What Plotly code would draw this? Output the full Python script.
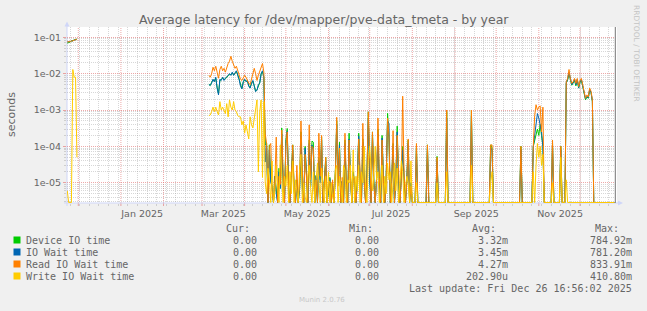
import pandas as pd
import plotly.graph_objects as go

# ---------------- data (seconds, daily averages) ----------------
series_names = ["Device IO time", "IO Wait time", "Read IO Wait time", "Write IO Wait time"]
series_colors = ["#00CC00", "#0066B3", "#FF8000", "#FFCC00"]

# late Nov 2024
seg1_start = "2024-11-23"
seg1_device = [0.069, 0.071, 0.074, 0.079, 0.081, 0.084, 0.089, 0.090]
seg1_iowait = [0.075, 0.074, 0.076, 0.080, 0.079, 0.084, 0.086, 0.087]
seg1_read = [0.075, 0.074, 0.076, 0.080, 0.079, 0.084, 0.086, 0.087]
seg1_write = [6e-6, 0, 0, 0, 1.3e-2, 8e-3, 8e-3, 5e-5]

# Mar 6 - Apr 15 2025
seg2_start = "2025-03-06"
seg2_device = [5.1e-3, 4.7e-3, 5.8e-3, 6.8e-3, 6.2e-3, 7.6e-3, 4.2e-3, 2.8e-3, 6.6e-3, 6.8e-3,
               7.7e-3, 6.8e-3, 7.2e-3, 8.2e-3, 8.7e-3, 9.6e-3, 9.3e-3, 1.05e-2, 9.2e-3, 1.0e-2,
               1.15e-2, 9.3e-3, 6.7e-3, 4.7e-3, 3.9e-3, 5.8e-3, 6.8e-3, 6.2e-3, 6.3e-3, 4.7e-3,
               4.1e-3, 5.3e-3, 6.3e-3, 4.7e-3, 3.3e-3, 3.6e-3, 4.8e-3, 5.7e-3, 9.7e-3, 1.17e-2, 7.7e-3]
seg2_iowait = [5e-3, 4.8e-3, 5.5e-3, 7e-3, 6e-3, 8e-3, 4e-3, 2.6e-3, 7e-3, 6.5e-3,
               8e-3, 6.5e-3, 7.5e-3, 8e-3, 9e-3, 1.0e-2, 9e-3, 1.1e-2, 9e-3, 1.05e-2,
               1.2e-2, 9e-3, 7e-3, 4.5e-3, 3.8e-3, 6e-3, 7e-3, 6e-3, 6.5e-3, 4.5e-3,
               4e-3, 5.5e-3, 6.5e-3, 4.5e-3, 3.2e-3, 3.5e-3, 5e-3, 5.5e-3, 1.0e-2, 1.2e-2, 8e-3]
seg2_read = [9e-3, 8e-3, 1.0e-2, 1.5e-2, 1.2e-2, 1.6e-2, 1.1e-2, 7.5e-3, 1.3e-2, 1.6e-2,
             1.2e-2, 1.4e-2, 1.1e-2, 1.5e-2, 1.9e-2, 2.2e-2, 3.0e-2, 2.2e-2, 1.7e-2, 1.4e-2,
             1.6e-2, 1.2e-2, 9e-3, 7e-3, 6.5e-3, 7.5e-3, 9e-3, 8e-3, 6.5e-3, 5.5e-3,
             5e-3, 7.5e-3, 1.1e-2, 1.4e-2, 1.0e-2, 6.5e-3, 9e-3, 1.2e-2, 1.6e-2, 1.9e-2, 1.1e-2]
seg2_write = [7e-4, 7.3e-4, 9e-4, 1.2e-3, 9e-4, 1.2e-3, 9e-4, 7.3e-4, 1.7e-3, 1.0e-3,
              1.2e-3, 1.0e-3, 8e-4, 1.5e-3, 6.5e-4, 1.9e-3, 1.2e-3, 1.0e-3, 1.7e-3, 1.0e-3,
              9e-4, 7e-4, 6.5e-4, 6.5e-4, 3.9e-4, 5e-4, 2.3e-4, 3.9e-4, 2.5e-4, 1.6e-4,
              6.5e-4, 3.9e-4, 3.2e-4, 6e-4, 1.2e-3, 1.9e-3, 2e-5, 9e-4, 1.9e-3, 1.4e-5, 1.7e-3]

# Apr 16 - Aug 1 2025
seg3_start = "2025-04-16"
seg3_device = [1.1e-4, 1.2e-4, 0, 1.1e-4, 1.2e-5, 8e-6, 0, 1.5e-5, 6e-6, 0,
               2.5e-5, 7e-6, 3.2e-4, 1.0e-5, 0, 1.5e-4, 3.1e-4, 8e-6, 0, 2e-5,
               1.1e-4, 6e-6, 0, 1.2e-5, 0, 7e-6, 2.5e-4, 1e-5, 0, 1e-4,
               1.2e-5, 0, 1.5e-4, 8e-6, 1.4e-4, 1.3e-4, 0, 1.6e-5, 0, 5e-5,
               1.2e-5, 1.8e-4, 0, 1.1e-5, 5e-5, 0, 6e-6, 1.4e-5, 0, 9e-6,
               0, 2e-5, 5e-4, 1e-5, 1.3e-4, 0, 1.1e-5, 0, 1.5e-4, 8e-6,
               0, 2.3e-4, 1.5e-5, 0, 2e-5, 1e-5, 0, 1.3e-5, 2.3e-4, 9e-6,
               0, 1.6e-4, 1.2e-5, 0, 2e-5, 8.9e-4, 1.5e-5, 0, 2.5e-4, 1.1e-5,
               0, 1.4e-5, 3e-4, 1e-5, 0, 2e-4, 1.2e-5, 0, 1.6e-5, 8.1e-4,
               1.5e-4, 0, 1.3e-5, 1.2e-4, 0, 1.1e-5, 3.6e-4, 9e-6, 0, 1.5e-5,
               1e-4, 1.3e-5, 0, 1.2e-5, 1.5e-4, 0, 1e-5, 0]
seg3_iowait = [3.7e-5, 1.0e-4, 0, 8e-5, 1e-5, 8e-6, 0, 1.5e-5, 5e-6, 0,
               2e-5, 7e-6, 2.2e-4, 9e-6, 0, 1.2e-4, 2.6e-4, 8e-6, 0, 2e-5,
               8e-5, 6e-6, 0, 1e-5, 0, 7e-6, 2e-4, 8e-6, 0, 9e-5,
               1.2e-5, 0, 1.2e-4, 8e-6, 1.1e-4, 8e-5, 0, 1.5e-5, 0, 4e-5,
               1e-5, 1.5e-4, 0, 1.1e-5, 4e-5, 0, 6e-6, 1.3e-5, 0, 9e-6,
               0, 1.8e-5, 4e-4, 1e-5, 1.1e-4, 0, 1.1e-5, 0, 1.2e-4, 7e-6,
               0, 1.6e-4, 1.4e-5, 0, 1.8e-5, 1e-5, 0, 1.2e-5, 1.9e-4, 8e-6,
               0, 1.3e-4, 1.1e-5, 0, 1.8e-5, 6e-4, 1.2e-5, 0, 2e-4, 1e-5,
               0, 1.3e-5, 2.2e-4, 9e-6, 0, 1.7e-4, 1.1e-5, 0, 1.5e-5, 5e-4,
               4.3e-4, 0, 1.2e-5, 1e-4, 0, 1e-5, 2.5e-4, 8e-6, 0, 1.4e-5,
               8e-5, 1.2e-5, 0, 1.1e-5, 1.2e-4, 0, 1e-5, 0]
seg3_read = [2.2e-4, 1.2e-4, 0, 1.0e-4, 1.2e-4, 6e-6, 0, 1.1e-5, 1.8e-4, 0,
             1.5e-5, 9e-6, 2.8e-4, 2e-5, 0, 1.0e-4, 2.5e-4, 6e-6, 0, 1.5e-5,
             1.1e-4, 8e-6, 0, 3e-5, 0, 1e-5, 5e-4, 2e-5, 0, 6e-5,
             1e-5, 0, 3.9e-4, 1.2e-5, 1e-4, 9e-5, 0, 1.2e-5, 0, 2.3e-4,
             1.5e-5, 2e-4, 0, 8e-6, 5e-5, 0, 9e-6, 1.1e-5, 0, 1.2e-5,
             0, 1.6e-5, 6.3e-4, 8e-6, 9e-5, 0, 1.4e-5, 0, 2.3e-4, 1e-5,
             0, 1.5e-4, 1.2e-5, 0, 1.5e-5, 1.2e-5, 0, 9e-6, 1.6e-4, 1.2e-5,
             0, 4.3e-4, 1e-5, 0, 1.5e-5, 8.9e-4, 1.8e-5, 0, 2.5e-4, 9e-6,
             0, 1.2e-5, 6e-4, 1.4e-5, 0, 1.5e-4, 1e-5, 0, 1.3e-5, 6e-4,
             2e-4, 0, 1e-5, 2.7e-4, 0, 1.4e-5, 2e-4, 1.1e-5, 0, 1.2e-5,
             2.4e-3, 1.8e-5, 0, 1e-5, 1.6e-4, 0, 8e-6, 0]
seg3_write = [1e-5, 5e-6, 2.5e-5, 1.2e-5, 0, 4e-5, 0, 6e-6, 3e-5, 9e-6,
              0, 1.1e-4, 2e-5, 0, 1.5e-5, 8e-6, 3e-5, 0, 2e-5, 5e-6,
              4e-5, 0, 1.2e-5, 6e-6, 0, 2.5e-5, 6e-5, 0, 1e-5, 4e-6,
              0, 1.6e-5, 3e-5, 7e-6, 0, 2e-5, 0, 1.2e-5, 3.5e-5, 1.1e-5,
              0, 2.5e-5, 6e-6, 0, 1.5e-5, 0, 2e-5, 0, 1e-5, 4e-6,
              0, 2.2e-5, 3e-5, 0, 1.5e-5, 8e-6, 0, 3e-5, 2.2e-5, 0,
              1.2e-5, 1e-5, 3e-5, 0, 8e-5, 0, 1.5e-5, 6e-6, 3e-5, 0,
              2e-5, 1e-5, 1e-4, 7e-6, 0, 4e-5, 1e-4, 2.3e-5, 6e-6, 1.6e-5,
              1e-4, 1.2e-5, 2e-5, 0, 8e-6, 3e-5, 0, 1.5e-5, 5e-6, 3.5e-5,
              1.2e-5, 2e-5, 0, 1.5e-5, 3.5e-5, 6e-6, 2.5e-5, 0, 1.2e-5, 4e-5,
              2e-5, 0, 8e-6, 1.5e-5, 1e-5, 0, 4e-5, 0]

# Oct 28 - Nov 4 2025
seg4_start = "2025-10-28"
seg4_device = [1e-4, 1.5e-4, 2e-4, 3e-4, 2e-4, 4e-4, 2e-4, 1e-4]
seg4_iowait = [1e-4, 2e-4, 5e-4, 8e-4, 6e-4, 3.5e-4, 2.5e-4, 1e-4]
seg4_read = [1e-4, 7e-4, 1.4e-3, 1.0e-3, 1.2e-3, 1.3e-3, 2.5e-4, 1.2e-3]
seg4_write = [2e-5, 0, 3e-5, 1.2e-4, 5e-5, 1e-4, 3e-5, 6e-5]

# Nov 21 - Dec 10 2025
seg5_start = "2025-11-21"
seg5_device = [5.5e-3, 6.8e-3, 1.0e-2, 6.2e-3, 4.8e-3, 5.5e-3, 6.6e-3, 4.6e-3, 6.8e-3, 4.0e-3,
               5.8e-3, 6.6e-3, 4.3e-3, 2.6e-3, 1.9e-3, 2.3e-3, 2.1e-3, 3.6e-3, 3.0e-3, 1.7e-3]
seg5_iowait = [5.7e-3, 7.0e-3, 1.1e-2, 6.5e-3, 5.0e-3, 5.7e-3, 6.9e-3, 4.9e-3, 7.0e-3, 4.1e-3,
               6.0e-3, 6.9e-3, 4.5e-3, 2.7e-3, 2.0e-3, 2.4e-3, 2.2e-3, 3.7e-3, 3.1e-3, 1.8e-3]
seg5_read = [6.0e-3, 7.5e-3, 1.3e-2, 7.0e-3, 5.4e-3, 6.0e-3, 7.4e-3, 5.4e-3, 7.4e-3, 4.4e-3,
             6.5e-3, 7.4e-3, 4.9e-3, 2.9e-3, 2.1e-3, 2.6e-3, 2.3e-3, 4.0e-3, 3.3e-3, 1.9e-3]
seg5_write = [1.2e-5, 0, 0, 0, 0, 0, 0, 0, 0, 0, 0, 0, 0, 0, 0, 0, 0, 0, 0, 0]

# isolated active days (all other days after Mar 6 are 0)
event_dates = ["2025-08-04", "2025-08-12", "2025-08-19", "2025-08-26", "2025-09-13",
               "2025-09-27", "2025-09-28", "2025-10-19", "2025-11-11", "2025-11-17"]
event_device = [1.0e-4, 1.1e-4, 5.3e-5, 9e-4, 1.0e-3, 1.1e-4, 9e-5, 1.0e-4, 1.2e-4, 1.0e-4]
event_iowait = [8e-5, 9e-5, 4e-5, 6e-4, 7e-4, 9e-5, 8e-5, 8e-5, 1.0e-4, 8e-5]
event_read = [1.2e-4, 1.1e-4, 5e-5, 1.0e-3, 1.0e-3, 1.1e-4, 1.1e-4, 1.0e-4, 1.5e-4, 1.0e-4]
event_write = [1e-5, 0, 1e-5, 2e-5, 3e-5, 1e-5, 2e-5, 0, 1e-5, 5e-5]

data_end = "2025-12-26"
now_time = "2025-12-26 16:56:02"

cur_vals = ["0.00", "0.00", "0.00", "0.00"]
min_vals = ["0.00", "0.00", "0.00", "0.00"]
avg_vals = ["3.32m", "3.45m", "4.27m", "202.90u"]
max_vals = ["784.92m", "781.20m", "833.91m", "410.80m"]
last_update = "Last update: Fri Dec 26 16:56:02 2025"

# ---------------- geometry ----------------
W, H = 647, 311
L, R, T, B = 67, 617, 27, 203
X_RANGE = ["2024-11-22 18:43", "2025-12-27 21:36"]
Y_RANGE = [-5.558, -0.7166]
FLOOR = 10 ** (Y_RANGE[0] + 0.012)

FONT = "DejaVu Sans"
MONO = "DejaVu Sans Mono"
TXT = "#666666"
AXIS_COL = "#CFD6F8"
GRID = "rgba(150,150,150,0.38)"
MGRID = "rgba(225,110,110,0.6)"


def px(x):
    return (x - L) / (R - L)


def py(y):
    return (B - y) / (B - T)


def build(s1, s2, s3, s4, s5, ev):
    d1 = pd.date_range(seg1_start, periods=len(s1), freq="D")
    days = pd.date_range(seg2_start, data_end, freq="D")
    s = pd.Series(0.0, index=days)
    for start, vals in [(seg2_start, s2), (seg3_start, s3), (seg4_start, s4), (seg5_start, s5)]:
        idx = pd.date_range(start, periods=len(vals), freq="D")
        s.loc[idx] = vals
    s.loc[pd.to_datetime(event_dates)] = ev
    xs = list(d1) + [d1[-1] + pd.Timedelta(hours=12)] + list(days)
    ys = list(s1) + [None] + list(s.values)
    ys = [None if v is None else (FLOOR if v == 0 else v) for v in ys]
    return xs, ys


all_series = [
    (seg1_device, seg2_device, seg3_device, seg4_device, seg5_device, event_device),
    (seg1_iowait, seg2_iowait, seg3_iowait, seg4_iowait, seg5_iowait, event_iowait),
    (seg1_read, seg2_read, seg3_read, seg4_read, seg5_read, event_read),
    (seg1_write, seg2_write, seg3_write, seg4_write, seg5_write, event_write),
]

fig = go.Figure()
for name, color, parts in zip(series_names, series_colors, all_series):
    xs, ys = build(*parts)
    fig.add_trace(go.Scatter(x=xs, y=ys, mode="lines", name=name,
                             line=dict(color=color, width=1), connectgaps=False,
                             hoverinfo="skip", showlegend=False))

month_starts = [d.strftime("%Y-%m-%d") for d in pd.date_range("2024-12-01", "2025-12-01", freq="MS")]
week_lines = [d.strftime("%Y-%m-%d") for d in pd.date_range("2024-11-25", "2025-12-27", freq="7D")]
label_months = pd.date_range("2025-01-01", periods=6, freq="2MS")
label_pos = [(d + pd.Timedelta(hours=15 * 24 + 12)).strftime("%Y-%m-%d %H:%M") for d in label_months]
label_text = [d.strftime("%b %Y") for d in label_months]

decades = [1e-5, 1e-4, 1e-3, 1e-2, 1e-1]
decade_text = ["1e-05", "1e-04", "1e-03", "1e-02", "1e-01"]
minor_y = [m * 10.0 ** k for k in range(-6, 0) for m in range(2, 10)]

fig.update_layout(
    width=W, height=H,
    margin=dict(l=L, r=W - R, t=T, b=H - B, pad=0),
    paper_bgcolor="#F0F0F0", plot_bgcolor="#FFFFFF",
    font=dict(family=FONT, color=TXT, size=10),
    showlegend=False,
    xaxis=dict(type="date", range=X_RANGE, showline=False, zeroline=False,
               tickmode="array", tickvals=label_pos, ticktext=label_text,
               tickfont=dict(family=FONT, size=9.5, color=TXT),
               showgrid=False, ticks="", ticklabelstandoff=3,
               minor=dict(tickmode="array", tickvals=week_lines, showgrid=True,
                          gridcolor=GRID, griddash="1px,1px", gridwidth=1,
                          ticks="outside", ticklen=2, tickcolor=GRID)),
    yaxis=dict(type="log", range=Y_RANGE, showline=False, zeroline=False,
               tickmode="array", tickvals=decades, ticktext=decade_text,
               tickfont=dict(family=FONT, size=9.5, color=TXT),
               showgrid=True, gridcolor=MGRID, griddash="1px,1px", gridwidth=1,
               ticks="outside", ticklen=3, tickcolor=MGRID,
               minor=dict(tickmode="array", tickvals=minor_y, showgrid=True,
                          gridcolor=GRID, griddash="1px,1px", gridwidth=1,
                          ticks="outside", ticklen=2, tickcolor=GRID)),
)

shapes = []
# month grid lines (major x grid) and their ticks
for m in month_starts:
    shapes.append(dict(type="line", xref="x", yref="paper", x0=m, x1=m, y0=0, y1=1,
                       line=dict(color=MGRID, width=1, dash="1px,1px"), layer="below"))
    shapes.append(dict(type="line", xref="x", yref="paper", x0=m, x1=m, y0=py(203), y1=py(206),
                       line=dict(color=MGRID, width=1), layer="below"))
# axes with arrows
shapes.append(dict(type="line", xref="paper", yref="paper", x0=px(67), x1=px(67), y0=py(206), y1=py(25),
                   line=dict(color=AXIS_COL, width=1), layer="below"))
shapes.append(dict(type="line", xref="paper", yref="paper", x0=px(64), x1=px(619), y0=py(203), y1=py(203),
                   line=dict(color=AXIS_COL, width=1), layer="below"))
shapes.append(dict(type="path", xref="paper", yref="paper",
                   path=f"M {px(64.5)} {py(26.5)} L {px(69.5)} {py(26.5)} L {px(67)} {py(21.5)} Z",
                   fillcolor=AXIS_COL, line=dict(width=0), layer="above"))
shapes.append(dict(type="path", xref="paper", yref="paper",
                   path=f"M {px(618)} {py(200.5)} L {px(618)} {py(205.5)} L {px(623)} {py(203)} Z",
                   fillcolor=AXIS_COL, line=dict(width=0), layer="above"))
# "now" marker
shapes.append(dict(type="line", xref="x", yref="paper", x0=now_time, x1=now_time, y0=0, y1=1,
                   line=dict(color="#8C8C8C", width=1.2), layer="above"))

# legend squares
row_y = [240, 252, 264, 276]
for color, yy in zip(series_colors, row_y):
    shapes.append(dict(type="rect", xref="paper", yref="paper",
                       x0=px(13.5), x1=px(20.5), y0=py(yy + 3.5), y1=py(yy - 3.5),
                       fillcolor=color, line=dict(width=0)))
fig.update_layout(shapes=shapes)

ann = []


def text(x, y, s, size=10, family=MONO, anchor="left", color=TXT, angle=0):
    ann.append(dict(x=px(x), y=py(y), xref="paper", yref="paper", text=s, showarrow=False,
                    xanchor=anchor, yanchor="middle", textangle=angle,
                    font=dict(family=family, size=size, color=color),
                    borderpad=0, borderwidth=0))


text(323.5, 19, "Average latency for /dev/mapper/pve-data_tmeta - by year", size=12.5,
     family=FONT, anchor="center")
text(11, 115, "seconds", size=11, family=FONT, anchor="center", angle=-90)
text(637, 53, "RRDTOOL / TOBI OETIKER", size=7.5, family=FONT, anchor="center",
     color="#C4C4C4", angle=90)

text(250, 228, "Cur:", anchor="right")
text(372.5, 228, "Min:", anchor="right")
text(496, 228, "Avg:", anchor="right")
text(618.5, 228, "Max:", anchor="right")
for i, yy in enumerate(row_y):
    text(26, yy, series_names[i])
    text(256.5, yy, cur_vals[i], anchor="right")
    text(379, yy, min_vals[i], anchor="right")
    text(508.2, yy, avg_vals[i], anchor="right")
    text(631.7, yy, max_vals[i], anchor="right")
text(632, 288, last_update, anchor="right")
text(321.5, 300, "Munin 2.0.76", size=7, family=FONT, anchor="center", color="#C8C8C8")
fig.update_layout(annotations=ann)

fig.write_html("out.html")
